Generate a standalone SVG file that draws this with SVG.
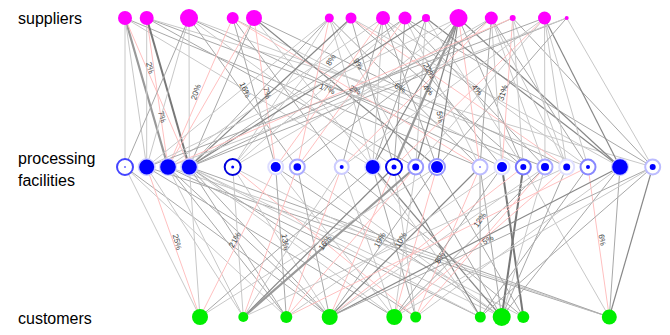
<svg xmlns="http://www.w3.org/2000/svg" width="670" height="335" viewBox="0 0 670 335">
<style>
.lbl{font-family:"Liberation Sans",Arial,sans-serif;font-size:16px;fill:#000}
.el{font-family:"Liberation Sans",Arial,sans-serif;font-size:8px;fill:#444;text-anchor:middle;dominant-baseline:central}
line{fill:none}
.a{stroke:#c8c8c8;stroke-width:1}
.b{stroke:#a8a8a8;stroke-width:1}
.c{stroke:#888;stroke-width:1.2}
.d{stroke:#999;stroke-width:2.2}
.e{stroke:#777;stroke-width:2}
.pk{stroke:#ffc0c0;stroke-width:1}
.sup{fill:#ff00ff}
.cus{fill:#00ee00}
.dot{fill:#0000ff}
.ring{fill:#fff;stroke-width:2}
</style>
<rect width="670" height="335" fill="#fff"/>
<text class="lbl" x="18" y="24">suppliers</text>
<text class="lbl" x="18" y="164">processing</text>
<text class="lbl" x="18" y="186">facilities</text>
<text class="lbl" x="18" y="324">customers</text>
<g id="connectors">
<line x1="125" y1="18" x2="125" y2="167" class="a"/>
<line x1="125" y1="18" x2="168" y2="167" class="d"/>
<line x1="125" y1="18" x2="189.3" y2="167" class="pk"/>
<line x1="125" y1="18" x2="480" y2="167" class="b"/>
<line x1="125" y1="18" x2="372.7" y2="167" class="a"/>
<line x1="125" y1="18" x2="146.7" y2="167" class="a"/>
<line x1="146.7" y1="18" x2="146.7" y2="167" class="a"/>
<line x1="146.7" y1="18" x2="168" y2="167" class="pk"/>
<line x1="146.7" y1="18" x2="189.3" y2="167" class="e"/>
<line x1="146.7" y1="18" x2="545" y2="167" class="b"/>
<line x1="146.7" y1="18" x2="652.7" y2="167" class="a"/>
<line x1="146.7" y1="18" x2="415.7" y2="167" class="b"/>
<line x1="189" y1="18" x2="125" y2="167" class="b"/>
<line x1="189" y1="18" x2="146.7" y2="167" class="a"/>
<line x1="189" y1="18" x2="189.3" y2="167" class="a"/>
<line x1="189" y1="18" x2="297.3" y2="167" class="b"/>
<line x1="189" y1="18" x2="502" y2="167" class="b"/>
<line x1="189" y1="18" x2="588" y2="167" class="a"/>
<line x1="189" y1="18" x2="394" y2="167" class="a"/>
<line x1="232.7" y1="18" x2="168" y2="167" class="pk"/>
<line x1="232.7" y1="18" x2="275.7" y2="167" class="b"/>
<line x1="232.7" y1="18" x2="341.7" y2="167" class="b"/>
<line x1="232.7" y1="18" x2="523.3" y2="167" class="a"/>
<line x1="232.7" y1="18" x2="480" y2="167" class="pk"/>
<line x1="254" y1="18" x2="189.3" y2="167" class="b"/>
<line x1="254" y1="18" x2="275.7" y2="167" class="pk"/>
<line x1="254" y1="18" x2="437" y2="167" class="c"/>
<line x1="254" y1="18" x2="566.7" y2="167" class="b"/>
<line x1="254" y1="18" x2="372.7" y2="167" class="a"/>
<line x1="254" y1="18" x2="168" y2="167" class="pk"/>
<line x1="329.3" y1="18" x2="189.3" y2="167" class="b"/>
<line x1="329.3" y1="18" x2="232.7" y2="167" class="a"/>
<line x1="329.3" y1="18" x2="372.7" y2="167" class="a"/>
<line x1="329.3" y1="18" x2="480" y2="167" class="b"/>
<line x1="329.3" y1="18" x2="146.7" y2="167" class="a"/>
<line x1="329.3" y1="18" x2="415.7" y2="167" class="a"/>
<line x1="329.3" y1="18" x2="297.3" y2="167" class="pk"/>
<line x1="351" y1="18" x2="189.3" y2="167" class="c"/>
<line x1="351" y1="18" x2="232.7" y2="167" class="a"/>
<line x1="351" y1="18" x2="394" y2="167" class="b"/>
<line x1="351" y1="18" x2="523.3" y2="167" class="b"/>
<line x1="351" y1="18" x2="566.7" y2="167" class="pk"/>
<line x1="351" y1="18" x2="620" y2="167" class="a"/>
<line x1="383" y1="18" x2="168" y2="167" class="a"/>
<line x1="383" y1="18" x2="275.7" y2="167" class="pk"/>
<line x1="383" y1="18" x2="341.7" y2="167" class="b"/>
<line x1="383" y1="18" x2="372.7" y2="167" class="a"/>
<line x1="383" y1="18" x2="437" y2="167" class="b"/>
<line x1="383" y1="18" x2="502" y2="167" class="b"/>
<line x1="383" y1="18" x2="588" y2="167" class="a"/>
<line x1="405" y1="18" x2="189.3" y2="167" class="b"/>
<line x1="405" y1="18" x2="232.7" y2="167" class="a"/>
<line x1="405" y1="18" x2="297.3" y2="167" class="pk"/>
<line x1="405" y1="18" x2="394" y2="167" class="b"/>
<line x1="405" y1="18" x2="480" y2="167" class="a"/>
<line x1="405" y1="18" x2="545" y2="167" class="b"/>
<line x1="405" y1="18" x2="652.7" y2="167" class="b"/>
<line x1="426" y1="18" x2="189.3" y2="167" class="c"/>
<line x1="426" y1="18" x2="372.7" y2="167" class="b"/>
<line x1="426" y1="18" x2="415.7" y2="167" class="a"/>
<line x1="426" y1="18" x2="523.3" y2="167" class="a"/>
<line x1="426" y1="18" x2="620" y2="167" class="c"/>
<line x1="458.5" y1="18" x2="394" y2="167" class="d"/>
<line x1="458.5" y1="18" x2="415.7" y2="167" class="c"/>
<line x1="458.5" y1="18" x2="437" y2="167" class="c"/>
<line x1="458.5" y1="18" x2="372.7" y2="167" class="c"/>
<line x1="458.5" y1="18" x2="480" y2="167" class="pk"/>
<line x1="458.5" y1="18" x2="523.3" y2="167" class="b"/>
<line x1="458.5" y1="18" x2="620" y2="167" class="c"/>
<line x1="458.5" y1="18" x2="275.7" y2="167" class="a"/>
<line x1="458.5" y1="18" x2="146.7" y2="167" class="a"/>
<line x1="491.3" y1="18" x2="232.7" y2="167" class="a"/>
<line x1="491.3" y1="18" x2="297.3" y2="167" class="b"/>
<line x1="491.3" y1="18" x2="480" y2="167" class="b"/>
<line x1="491.3" y1="18" x2="502" y2="167" class="a"/>
<line x1="491.3" y1="18" x2="545" y2="167" class="a"/>
<line x1="491.3" y1="18" x2="566.7" y2="167" class="a"/>
<line x1="491.3" y1="18" x2="588" y2="167" class="b"/>
<line x1="491.3" y1="18" x2="341.7" y2="167" class="pk"/>
<line x1="512.7" y1="18" x2="189.3" y2="167" class="b"/>
<line x1="512.7" y1="18" x2="502" y2="167" class="pk"/>
<line x1="512.7" y1="18" x2="523.3" y2="167" class="a"/>
<line x1="512.7" y1="18" x2="566.7" y2="167" class="a"/>
<line x1="512.7" y1="18" x2="652.7" y2="167" class="b"/>
<line x1="512.7" y1="18" x2="168" y2="167" class="pk"/>
<line x1="544.5" y1="18" x2="146.7" y2="167" class="b"/>
<line x1="544.5" y1="18" x2="341.7" y2="167" class="a"/>
<line x1="544.5" y1="18" x2="415.7" y2="167" class="a"/>
<line x1="544.5" y1="18" x2="545" y2="167" class="a"/>
<line x1="544.5" y1="18" x2="566.7" y2="167" class="a"/>
<line x1="544.5" y1="18" x2="588" y2="167" class="a"/>
<line x1="544.5" y1="18" x2="620" y2="167" class="c"/>
<line x1="544.5" y1="18" x2="394" y2="167" class="pk"/>
<line x1="566.7" y1="18" x2="189.3" y2="167" class="b"/>
<line x1="566.7" y1="18" x2="168" y2="167" class="a"/>
<line x1="566.7" y1="18" x2="437" y2="167" class="b"/>
<line x1="566.7" y1="18" x2="652.7" y2="167" class="a"/>

<line x1="125" y1="167" x2="200" y2="317" class="a"/>
<line x1="125" y1="167" x2="329.7" y2="317" class="b"/>
<line x1="125" y1="167" x2="286.3" y2="317" class="a"/>
<line x1="146.7" y1="167" x2="200" y2="317" class="pk"/>
<line x1="146.7" y1="167" x2="394.3" y2="317" class="b"/>
<line x1="146.7" y1="167" x2="609.3" y2="317" class="b"/>
<line x1="146.7" y1="167" x2="243.3" y2="317" class="a"/>
<line x1="168" y1="167" x2="243.3" y2="317" class="a"/>
<line x1="168" y1="167" x2="329.7" y2="317" class="b"/>
<line x1="168" y1="167" x2="480.3" y2="317" class="b"/>
<line x1="168" y1="167" x2="609.3" y2="317" class="a"/>
<line x1="168" y1="167" x2="286.3" y2="317" class="b"/>
<line x1="189.3" y1="167" x2="200" y2="317" class="a"/>
<line x1="189.3" y1="167" x2="286.3" y2="317" class="b"/>
<line x1="189.3" y1="167" x2="329.7" y2="317" class="b"/>
<line x1="189.3" y1="167" x2="394.3" y2="317" class="a"/>
<line x1="189.3" y1="167" x2="415.7" y2="317" class="b"/>
<line x1="189.3" y1="167" x2="501.7" y2="317" class="a"/>
<line x1="189.3" y1="167" x2="609.3" y2="317" class="b"/>
<line x1="189.3" y1="167" x2="480.3" y2="317" class="a"/>
<line x1="232.7" y1="167" x2="243.3" y2="317" class="a"/>
<line x1="232.7" y1="167" x2="329.7" y2="317" class="a"/>
<line x1="232.7" y1="167" x2="415.7" y2="317" class="pk"/>
<line x1="232.7" y1="167" x2="523.3" y2="317" class="a"/>
<line x1="275.7" y1="167" x2="200" y2="317" class="pk"/>
<line x1="275.7" y1="167" x2="286.3" y2="317" class="b"/>
<line x1="275.7" y1="167" x2="394.3" y2="317" class="a"/>
<line x1="275.7" y1="167" x2="501.7" y2="317" class="b"/>
<line x1="297.3" y1="167" x2="329.7" y2="317" class="b"/>
<line x1="297.3" y1="167" x2="501.7" y2="317" class="a"/>
<line x1="297.3" y1="167" x2="243.3" y2="317" class="pk"/>
<line x1="341.7" y1="167" x2="243.3" y2="317" class="a"/>
<line x1="341.7" y1="167" x2="394.3" y2="317" class="a"/>
<line x1="341.7" y1="167" x2="523.3" y2="317" class="b"/>
<line x1="341.7" y1="167" x2="286.3" y2="317" class="pk"/>
<line x1="372.7" y1="167" x2="200" y2="317" class="b"/>
<line x1="372.7" y1="167" x2="415.7" y2="317" class="b"/>
<line x1="372.7" y1="167" x2="501.7" y2="317" class="c"/>
<line x1="372.7" y1="167" x2="480.3" y2="317" class="a"/>
<line x1="394" y1="167" x2="243.3" y2="317" class="c"/>
<line x1="394" y1="167" x2="329.7" y2="317" class="pk"/>
<line x1="394" y1="167" x2="415.7" y2="317" class="a"/>
<line x1="394" y1="167" x2="480.3" y2="317" class="c"/>
<line x1="415.7" y1="167" x2="243.3" y2="317" class="d"/>
<line x1="415.7" y1="167" x2="394.3" y2="317" class="a"/>
<line x1="415.7" y1="167" x2="501.7" y2="317" class="b"/>
<line x1="415.7" y1="167" x2="286.3" y2="317" class="pk"/>
<line x1="437" y1="167" x2="329.7" y2="317" class="b"/>
<line x1="437" y1="167" x2="200" y2="317" class="a"/>
<line x1="437" y1="167" x2="523.3" y2="317" class="b"/>
<line x1="437" y1="167" x2="394.3" y2="317" class="pk"/>
<line x1="480" y1="167" x2="480.3" y2="317" class="b"/>
<line x1="480" y1="167" x2="501.7" y2="317" class="b"/>
<line x1="480" y1="167" x2="329.7" y2="317" class="c"/>
<line x1="480" y1="167" x2="415.7" y2="317" class="pk"/>
<line x1="502" y1="167" x2="523.3" y2="317" class="e"/>
<line x1="502" y1="167" x2="394.3" y2="317" class="b"/>
<line x1="502" y1="167" x2="286.3" y2="317" class="a"/>
<line x1="523.3" y1="167" x2="501.7" y2="317" class="e"/>
<line x1="523.3" y1="167" x2="329.7" y2="317" class="pk"/>
<line x1="523.3" y1="167" x2="609.3" y2="317" class="a"/>
<line x1="545" y1="167" x2="329.7" y2="317" class="a"/>
<line x1="545" y1="167" x2="394.3" y2="317" class="b"/>
<line x1="545" y1="167" x2="501.7" y2="317" class="a"/>
<line x1="545" y1="167" x2="415.7" y2="317" class="pk"/>
<line x1="566.7" y1="167" x2="394.3" y2="317" class="pk"/>
<line x1="566.7" y1="167" x2="501.7" y2="317" class="b"/>
<line x1="566.7" y1="167" x2="243.3" y2="317" class="a"/>
<line x1="588" y1="167" x2="286.3" y2="317" class="pk"/>
<line x1="588" y1="167" x2="609.3" y2="317" class="pk"/>
<line x1="588" y1="167" x2="480.3" y2="317" class="b"/>
<line x1="620" y1="167" x2="329.7" y2="317" class="c"/>
<line x1="620" y1="167" x2="609.3" y2="317" class="b"/>
<line x1="620" y1="167" x2="501.7" y2="317" class="b"/>
<line x1="620" y1="167" x2="415.7" y2="317" class="a"/>
<line x1="652.7" y1="167" x2="329.7" y2="317" class="b"/>
<line x1="652.7" y1="167" x2="609.3" y2="317" class="c"/>
<line x1="652.7" y1="167" x2="480.3" y2="317" class="b"/>
<line x1="652.7" y1="167" x2="394.3" y2="317" class="a"/>
</g>
<g id="edge-labels">
<text class="el" transform="translate(150,68) rotate(75)">2%</text>
<text class="el" transform="translate(162,117) rotate(75)">7%</text>
<text class="el" transform="translate(196,92) rotate(-72)">20%</text>
<text class="el" transform="translate(245,90) rotate(65)">16%</text>
<text class="el" transform="translate(267,93) rotate(75)">7%</text>
<text class="el" transform="translate(331,60) rotate(-60)">8%</text>
<text class="el" transform="translate(358,64) rotate(60)">9%</text>
<text class="el" transform="translate(327,89) rotate(22)">17%</text>
<text class="el" transform="translate(355,90) rotate(25)">2%</text>
<text class="el" transform="translate(400,88) rotate(30)">6%</text>
<text class="el" transform="translate(429,71) rotate(60)">22%</text>
<text class="el" transform="translate(428,90) rotate(50)">4%</text>
<text class="el" transform="translate(440,117) rotate(80)">5%</text>
<text class="el" transform="translate(477,90) rotate(50)">4%</text>
<text class="el" transform="translate(503,93) rotate(-75)">31%</text>
<text class="el" transform="translate(177,242) rotate(75)">25%</text>
<text class="el" transform="translate(235,240) rotate(-60)">21%</text>
<text class="el" transform="translate(285,242) rotate(80)">13%</text>
<text class="el" transform="translate(325,243) rotate(-55)">16%</text>
<text class="el" transform="translate(380,240) rotate(-60)">19%</text>
<text class="el" transform="translate(401,240) rotate(-60)">10%</text>
<text class="el" transform="translate(480,220) rotate(-55)">12%</text>
<text class="el" transform="translate(488,240) rotate(-30)">5%</text>
<text class="el" transform="translate(440,258) rotate(-60)">8%</text>
<text class="el" transform="translate(602,240) rotate(80)">6%</text>
</g>
<g id="suppliers">
<circle id="s0" class="sup" cx="125" cy="18" r="7"/>
<circle id="s1" class="sup" cx="146.7" cy="18" r="7"/>
<circle id="s2" class="sup" cx="189" cy="18" r="9"/>
<circle id="s3" class="sup" cx="232.7" cy="18" r="6"/>
<circle id="s4" class="sup" cx="254" cy="18" r="8"/>
<circle id="s5" class="sup" cx="329.3" cy="18" r="4.5"/>
<circle id="s6" class="sup" cx="351" cy="18" r="5.5"/>
<circle id="s7" class="sup" cx="383" cy="18" r="7"/>
<circle id="s8" class="sup" cx="405" cy="18" r="6.5"/>
<circle id="s9" class="sup" cx="426" cy="18" r="4"/>
<circle id="s10" class="sup" cx="458.5" cy="18" r="9"/>
<circle id="s11" class="sup" cx="491.3" cy="18" r="6.5"/>
<circle id="s12" class="sup" cx="512.7" cy="18" r="3"/>
<circle id="s13" class="sup" cx="544.5" cy="18" r="6.5"/>
<circle id="s14" class="sup" cx="566.7" cy="18" r="2"/>
</g>
<g id="facilities">
<g id="f0"><circle class="ring" cx="125" cy="167" r="8" stroke="#4444ff"/><circle class="dot" cx="125" cy="167" r="0.8"/></g>
<g id="f1"><circle class="ring" cx="146.7" cy="167" r="8" stroke="#ccccff"/><circle class="dot" cx="146.7" cy="167" r="7.5"/></g>
<g id="f2"><circle class="ring" cx="168" cy="167" r="8" stroke="#ccccff"/><circle class="dot" cx="168" cy="167" r="7.8"/></g>
<g id="f3"><circle class="ring" cx="189.3" cy="167" r="8" stroke="#ccccff"/><circle class="dot" cx="189.3" cy="167" r="7.5"/></g>
<g id="f4"><circle class="ring" cx="232.7" cy="167" r="8" stroke="#0000dd" stroke-width="2.5"/><circle class="dot" cx="232.7" cy="167" r="1.5"/></g>
<g id="f5"><circle class="ring" cx="275.7" cy="167" r="7.5" stroke="#ddddff"/><circle class="dot" cx="275.7" cy="167" r="5"/></g>
<g id="f6"><circle class="ring" cx="297.3" cy="167" r="7.5" stroke="#aaaaff"/><circle class="dot" cx="297.3" cy="167" r="3.8"/></g>
<g id="f7"><circle class="ring" cx="341.7" cy="167" r="7" stroke="#ccccff"/><circle class="dot" cx="341.7" cy="167" r="2"/></g>
<g id="f8"><circle class="ring" cx="372.7" cy="167" r="7.5" stroke="#ddddff"/><circle class="dot" cx="372.7" cy="167" r="7"/></g>
<g id="f9"><circle class="ring" cx="394" cy="167" r="8" stroke="#0000ee" stroke-width="2.5"/><circle class="dot" cx="394" cy="167" r="2.5"/></g>
<g id="f10"><circle class="ring" cx="415.7" cy="167" r="7.5" stroke="#9999ff"/><circle class="dot" cx="415.7" cy="167" r="3.5"/></g>
<g id="f11"><circle class="ring" cx="437" cy="167" r="8" stroke="#9999ff"/><circle class="dot" cx="437" cy="167" r="6"/></g>
<g id="f12"><circle class="ring" cx="480" cy="167" r="7.5" stroke="#bbbbff"/><circle class="dot" cx="480" cy="167" r="0.7"/></g>
<g id="f13"><circle class="ring" cx="502" cy="167" r="7.5" stroke="#e0e0ff"/><circle class="dot" cx="502" cy="167" r="5"/></g>
<g id="f14"><circle class="ring" cx="523.3" cy="167" r="7.5" stroke="#7777ff"/><circle class="dot" cx="523.3" cy="167" r="3"/></g>
<g id="f15"><circle class="ring" cx="545" cy="167" r="7.5" stroke="#aaaaff"/><circle class="dot" cx="545" cy="167" r="4"/></g>
<g id="f16"><circle class="ring" cx="566.7" cy="167" r="7.5" stroke="#e0e0ff"/><circle class="dot" cx="566.7" cy="167" r="3.5"/></g>
<g id="f17"><circle class="ring" cx="588" cy="167" r="7.5" stroke="#8888ff"/><circle class="dot" cx="588" cy="167" r="2"/></g>
<g id="f18"><circle class="ring" cx="620" cy="167" r="8" stroke="#ccccff"/><circle class="dot" cx="620" cy="167" r="7.8"/></g>
<g id="f19"><circle class="ring" cx="652.7" cy="167" r="7.5" stroke="#bbbbff"/><circle class="dot" cx="652.7" cy="167" r="3"/></g>
</g>
<g id="customers">
<circle id="c0" class="cus" cx="200" cy="317" r="8"/>
<circle id="c1" class="cus" cx="243.3" cy="317" r="5"/>
<circle id="c2" class="cus" cx="286.3" cy="317" r="6"/>
<circle id="c3" class="cus" cx="329.7" cy="317" r="8"/>
<circle id="c4" class="cus" cx="394.3" cy="317" r="8"/>
<circle id="c5" class="cus" cx="415.7" cy="317" r="5.5"/>
<circle id="c6" class="cus" cx="480.3" cy="317" r="5.5"/>
<circle id="c7" class="cus" cx="501.7" cy="317" r="9"/>
<circle id="c8" class="cus" cx="523.3" cy="317" r="6"/>
<circle id="c9" class="cus" cx="609.3" cy="317" r="7.5"/>
</g>
</svg>
